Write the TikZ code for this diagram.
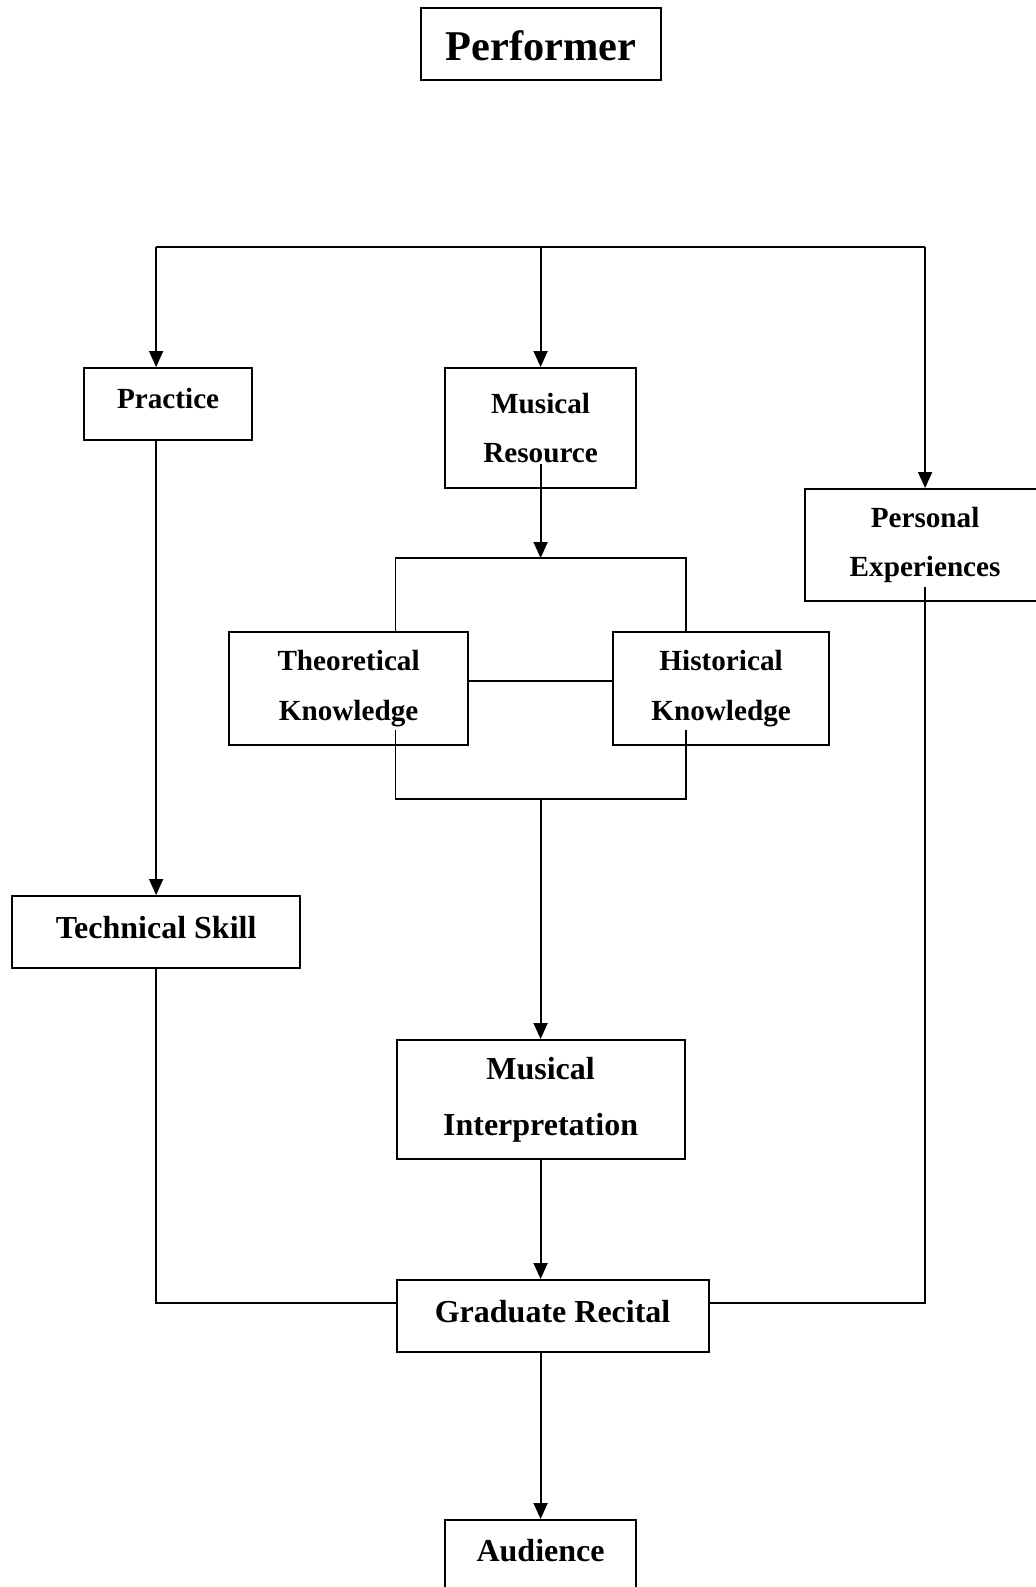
\documentclass[tikz,border=0pt]{standalone}
\usepackage{fontspec}
\setmainfont{Liberation Serif}
\usepackage{tikz}
\usetikzlibrary{arrows.meta, calc}
\tikzstyle{box} = [rectangle, draw=black, line width=1.1pt, inner sep=0pt, anchor=north west, align=center, font=\bfseries\fontsize{14.6}{24.8}\selectfont]
\tikzstyle{arrow} = [line width=0.9pt, -{Triangle[length=8pt,width=7pt]}]

\begin{document}
\begin{tikzpicture}[
    x=0.5pt, y=-0.5pt,
    line/.style={line width=0.9pt},
    big/.style={font=\bfseries\fontsize{16}{27.8}\selectfont},
    oneline/.style={text height=20pt, text depth=16pt}
]
\useasboundingbox (0,0) rectangle (1035,1587);

% Nodes
\node (perf) [box, minimum width=120pt, text height=26pt, text depth=10pt, font=\bfseries\fontsize{21.2}{25}\selectfont] at (420,7) {Performer};
\node (prac) [box, oneline, minimum width=84pt] at (83,367) {Practice};
\node (res) [box, minimum width=95.5pt, minimum height=60pt] at (444,367) {Musical\\Resource};
\node (pers) [box, minimum width=120pt, minimum height=56pt] at (804,488) {Personal\\Experiences};
\node (theo) [box, minimum width=119.5pt, minimum height=56.5pt] at (228,631) {Theoretical\\Knowledge};
\node (hist) [box, minimum width=108pt, minimum height=56.5pt] at (612,631) {Historical\\Knowledge};
\node (tech) [box, big, minimum width=144pt, text height=21pt, text depth=15pt] at (11,895) {Technical Skill};
\node (interp) [box, big, minimum width=144pt, minimum height=59.5pt] at (395.5,1039) {Musical\\Interpretation};
\node (grad) [box, big, minimum width=156pt, text height=21pt, text depth=15pt] at (395.5,1279) {Graduate Recital};
\node (aud) [box, big, minimum width=95.5pt, text height=20.5pt, text depth=20pt] at (444,1519) {Audience};

% Arrows
\coordinate (split) at (res.north |- 0,247);
\coordinate (brtop) at (res.south |- 0,558);
\coordinate (brbot) at (res.south |- 0,799);
\draw [line] (tech.north |- split) -- (pers.north |- split);
\draw [arrow] (tech.north |- split) -- (tech.north |- prac.north);
\draw [arrow] (split) -- (res.north);
\draw [arrow] (pers.north |- split) -- (pers.north);
\draw [arrow] (tech.north |- prac.south) -- (tech.north);
\draw [arrow] ($(res.south)+(0,-25)$) -- (brtop);
\draw [line] (theo.north -| interp.west) |- (brtop) -| (hist.north -| interp.east);
\draw [line] ([yshift=4pt]theo.east) -- ([yshift=4pt]hist.west);
\draw [line] ($(theo.south -| interp.west)+(0,-16)$) |- (brbot) -| ($(hist.south -| interp.east)+(0,-16)$);
\draw [arrow] (brbot) -- (interp.north);
\draw [arrow] (interp.south) -- (interp.south |- grad.north);
\draw [line] (tech.south) |- ([yshift=6.5pt]grad.west);
\draw [line] ($(pers.south)+(0,-15)$) |- ([yshift=6.5pt]grad.east);
\draw [arrow] (grad.south -| aud.north) -- (aud.north);

\end{tikzpicture}
\end{document}
